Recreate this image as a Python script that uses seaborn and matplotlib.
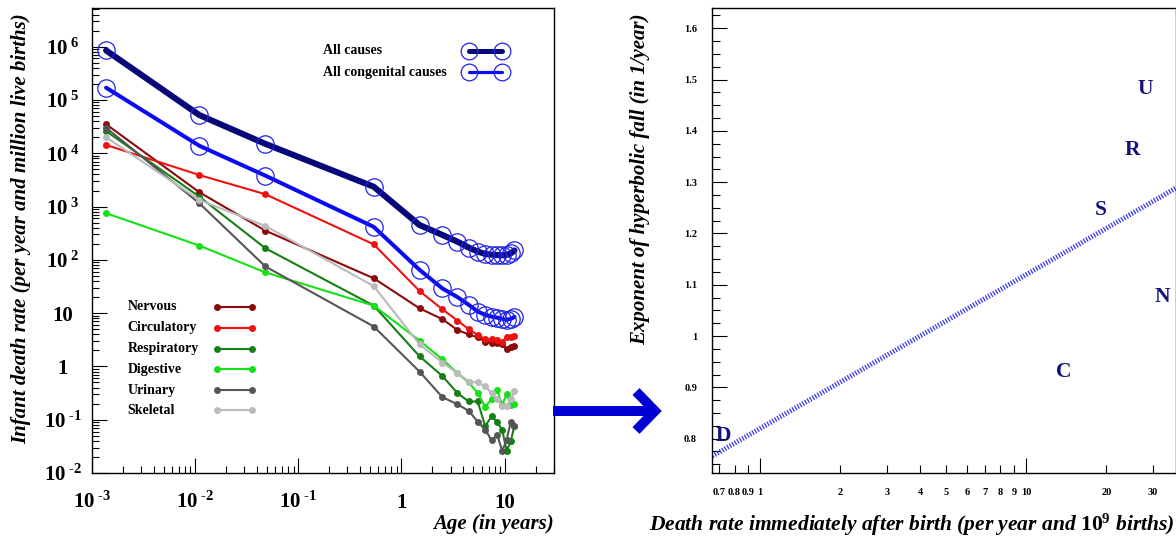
import numpy as np
import pandas as pd
import matplotlib
matplotlib.use("Agg")
import matplotlib.pyplot as plt
import seaborn as sns
from matplotlib.lines import Line2D
from matplotlib.ticker import LogLocator, FixedLocator, FuncFormatter, NullFormatter, MultipleLocator

# ---------------- data ----------------
ages = [0.00137, 0.011, 0.048, 0.54, 1.5, 2.5, 3.5, 4.5, 5.5, 6.5, 7.5, 8.5, 9.5, 10.5, 11.5, 12.5]

all_causes = [8.5e5, 5.2e4, 1.5e4, 2350, 450, 293, 219, 170, 143, 129, 125, 123, 122, 124, 132, 150]
congenital = [1.7e5, 1.38e4, 3800, 415, 65, 29, 20, 14.3, 10.7, 9.3, 8.6, 8.2, 7.8, 7.5, 7.8, 8.5]
nervous = [3.5e4, 1850, 353, 45, 12.3, 7.7, 4.8, 4.0, 3.5, 2.9, 2.8, 2.8, 2.6, 2.1, 2.35, 2.4]
circulatory = [1.43e4, 3900, 1700, 195, 26, 11.8, 7.25, 5.0, 3.9, 3.24, 3.2, 3.1, 2.9, 3.5, 3.6, 3.7]
respiratory = [2.6e4, 1530, 165, 13.8, 1.55, 0.66, 0.315, 0.22, 0.22, 0.075, 0.117, 0.09, 0.064, 0.026, 0.04, 0.077]
digestive = [750, 185, 58, 13.8, 3.05, 1.36, 0.745, 0.50, 0.316, 0.176, 0.243, 0.363, 0.19, 0.305, 0.19, 0.195]
urinary = [3.0e4, 1150, 75, 5.6, 0.8, 0.264, 0.195, 0.146, 0.092, 0.065, 0.041, 0.052, 0.026, 0.042, 0.092, 0.077]
skeletal = [2.0e4, 1330, 432, 32, 2.6, 1.18, 0.745, 0.52, 0.5, 0.42, 0.316, 0.243, 0.18, 0.18, 0.243, 0.34]

top_labels = ["All causes", "All congenital causes"]
cause_labels = ["Nervous", "Circulatory", "Respiratory", "Digestive", "Urinary", "Skeletal"]

# right panel
cause_codes = ["U", "R", "S", "N", "C", "D"]
rate_at_birth = [28.0, 25.1, 19.1, 32.6, 13.8, 0.724]
fall_exponent = [1.481, 1.363, 1.246, 1.076, 0.930, 0.805]
fit_rate = [0.66, 36.4]
fit_exponent = [0.766, 1.288]

# ---------------- style ----------------
sns.set_theme(style="white")
plt.rcParams["font.family"] = ["Liberation Serif", "DejaVu Serif"]
plt.rcParams["font.weight"] = "bold"
plt.rcParams["mathtext.fontset"] = "custom"
plt.rcParams["mathtext.rm"] = "Liberation Serif:bold"
plt.rcParams["mathtext.it"] = "Liberation Serif:italic:bold"
plt.rcParams["mathtext.bf"] = "Liberation Serif:bold"
for k in ["text.color", "axes.labelcolor", "xtick.color", "ytick.color", "axes.edgecolor"]:
    plt.rcParams[k] = "black"

W, H = 1176, 538
fig = plt.figure(figsize=(W / 100, H / 100), dpi=100)


def fpos(px, py):
    return px / W, 1 - py / H


axl = fig.add_axes([92 / W, 65 / H, 462 / W, 464.7 / H])
axr = fig.add_axes([712.3 / W, 65 / H, (1175.5 - 712.3) / W, 464.7 / H])

for ax in (axl, axr):
    for s in ax.spines.values():
        s.set_linewidth(1.0)
        s.set_color("black")

# ---------------- left panel ----------------
axl.set_xscale("log")
axl.set_yscale("log")

thin = [
    (nervous, "#8b0a0a"),
    (circulatory, "#ee1111"),
    (respiratory, "#167f16"),
    (digestive, "#16e016"),
    (urinary, "#555555"),
    (skeletal, "#bbbbbb"),
]
for vals, col in thin:
    sns.lineplot(x=ages, y=vals, ax=axl, color=col, linewidth=1.5, marker="o",
                 markersize=5, markeredgewidth=0, markerfacecolor=col, sort=False)

circ_col = "#2222e6"
sns.lineplot(x=ages, y=congenital, ax=axl, color="#0a0af5", linewidth=2.9, marker="o",
             markersize=12.5, markerfacecolor="none", markeredgecolor=circ_col,
             markeredgewidth=0.9, sort=False)
sns.lineplot(x=ages, y=all_causes, ax=axl, color="#08087a", linewidth=4.4, marker="o",
             markersize=12.5, markerfacecolor="none", markeredgecolor=circ_col,
             markeredgewidth=0.9, sort=False)

axl.set_xlim(1e-3, 10 ** 1.48)
axl.set_ylim(1e-2, 10 ** 6.72)


def log_fmt(v, pos):
    e = int(round(np.log10(v)))
    if e == 0:
        return "1"
    if e == 1:
        return "10"
    if e < 0:
        return r"$10^{\;\text{-}%d}$" % (-e)
    return r"$10^{\;%d}$" % e


axl.xaxis.set_major_locator(FixedLocator([1e-3, 1e-2, 1e-1, 1, 10]))
axl.xaxis.set_minor_locator(LogLocator(base=10, subs=np.arange(2, 10), numticks=20))
axl.xaxis.set_major_formatter(FuncFormatter(log_fmt))
axl.xaxis.set_minor_formatter(NullFormatter())
axl.yaxis.set_major_locator(FixedLocator([10.0 ** e for e in range(-2, 7)]))
axl.yaxis.set_minor_locator(LogLocator(base=10, subs=np.arange(2, 10), numticks=20))
axl.yaxis.set_major_formatter(FuncFormatter(log_fmt))
axl.yaxis.set_minor_formatter(NullFormatter())

axl.tick_params(axis="both", which="both", direction="in", bottom=True, left=True,
                top=False, right=False, width=0.8, colors="black")
axl.tick_params(axis="both", which="major", length=11, labelsize=15)
axl.tick_params(axis="both", which="minor", length=5)
axl.tick_params(axis="x", which="major", pad=25)
axl.tick_params(axis="y", which="major", pad=21)
for t in axl.xaxis.get_major_ticks():
    t.label1.set_va("baseline")
for t in axl.yaxis.get_major_ticks():
    t.label1.set_ha("center")

axl.set_xlabel("Age (in years)", fontsize=15, fontstyle="italic", fontweight="bold", loc="right")
axl.xaxis.set_label_coords(1.0, -0.088)
axl.set_ylabel("Infant death rate (per year and million live births)", fontsize=15,
               fontstyle="italic", fontweight="bold", loc="top")
axl.yaxis.set_label_coords(-0.132, 0.99)

# legends drawn ROOT-style (text left, line with end markers right)
top_styles = [("#08087a", 3.6), ("#0a0af5", 2.3)]
for i, (lab, (col, lw)) in enumerate(zip(top_labels, top_styles)):
    y = 50.7 + 21.6 * i
    fig.text(*fpos(323, y), lab, fontsize=10, fontweight="bold", va="center", ha="left")
    x0, y0 = fpos(469, y)
    x1, _ = fpos(502, y)
    fig.add_artist(Line2D([x0, x1], [y0, y0], transform=fig.transFigure, color=col, lw=lw,
                          marker="o", markersize=12, markerfacecolor="none",
                          markeredgecolor=circ_col, markeredgewidth=0.9))

row_y = [306.7, 327.7, 348.7, 369.3, 390.3, 410.3]
for lab, (vals, col), y in zip(cause_labels, thin, row_y):
    fig.text(*fpos(127.5, y), lab, fontsize=10, fontweight="bold", va="center", ha="left")
    x0, y0 = fpos(216.7, y)
    x1, _ = fpos(251.7, y)
    fig.add_artist(Line2D([x0, x1], [y0, y0], transform=fig.transFigure, color=col, lw=1.5,
                          marker="o", markersize=5, markeredgewidth=0, markerfacecolor=col))

# ---------------- arrow between panels ----------------
arrow_col = "#0000d2"
ax0, ay0 = fpos(553, 411)
ax1, _ = fpos(650, 411)
fig.add_artist(Line2D([ax0, ax1], [ay0, ay0], transform=fig.transFigure, color=arrow_col,
                      lw=7.2, solid_capstyle="butt"))
p1, p2, p3 = fpos(636, 391.5), fpos(655, 411), fpos(636, 430.5)
fig.add_artist(Line2D([p1[0], p2[0], p3[0]], [p1[1], p2[1], p3[1]], transform=fig.transFigure,
                      color=arrow_col, lw=7.0, solid_capstyle="butt", solid_joinstyle="miter"))

# ---------------- right panel ----------------
axr.set_xscale("log")
sns.lineplot(x=fit_rate, y=fit_exponent, ax=axr, color="#3535f0", linewidth=3.6,
             linestyle=(0, (0.25, 0.33)), sort=False)
for code, xv, yv in zip(cause_codes, rate_at_birth, fall_exponent):
    axr.text(xv, yv, code, ha="center", va="center", fontsize=15.5, fontweight="bold",
             color="#12127e")

axr.set_xlim(0.66, 36.4)
axr.set_ylim(0.733, 1.639)
axr.xaxis.set_major_locator(FixedLocator([1, 10]))
axr.xaxis.set_minor_locator(FixedLocator([0.7, 0.8, 0.9, 2, 3, 4, 5, 6, 7, 8, 9, 20, 30]))
axr.xaxis.set_major_formatter(FuncFormatter(lambda v, p: f"{v:g}"))
axr.xaxis.set_minor_formatter(FuncFormatter(lambda v, p: f"{v:g}"))
axr.yaxis.set_major_locator(MultipleLocator(0.1))
axr.yaxis.set_minor_locator(MultipleLocator(0.025))
axr.yaxis.set_major_formatter(FuncFormatter(lambda v, p: f"{round(v, 2):g}"))

axr.tick_params(axis="both", which="both", direction="in", bottom=True, left=True,
                top=False, right=False, width=0.8, colors="black", labelsize=7.5)
axr.tick_params(axis="both", which="major", length=10.5)
axr.tick_params(axis="both", which="minor", length=5.5)
axr.tick_params(axis="x", which="both", pad=15.5)
axr.tick_params(axis="y", which="both", pad=11)
for t in axr.xaxis.get_major_ticks() + axr.xaxis.get_minor_ticks():
    t.label1.set_va("baseline")

axr.set_xlabel(r"Death rate immediately after birth (per year and $\mathit{10^{9}}$ births)",
               fontsize=15.5, fontstyle="italic", fontweight="bold", loc="right")
axr.xaxis.set_label_coords(0.997, -0.083)
axr.set_ylabel("Exponent of hyperbolic fall (in 1/year)", fontsize=15, fontstyle="italic",
               fontweight="bold", loc="top")
axr.yaxis.set_label_coords(-0.1345, 0.99)

fig.savefig("out.png", dpi=100, facecolor="white")
